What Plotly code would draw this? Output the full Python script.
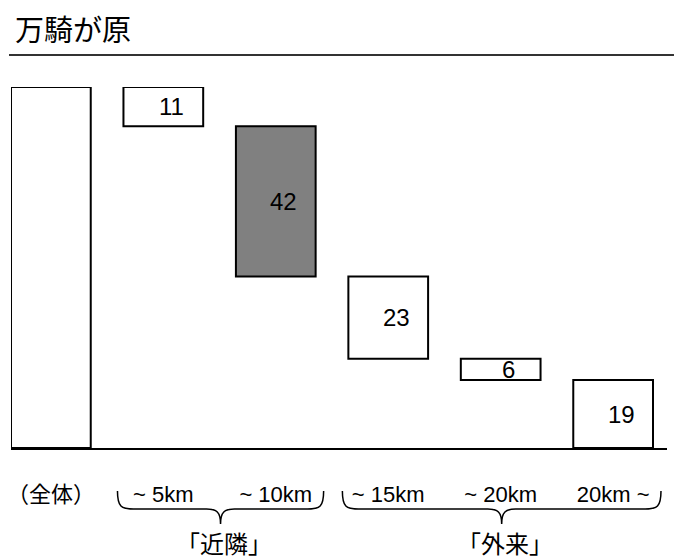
import plotly.graph_objects as go

# ---- data ----
categories = ["（全体）", "~ 5km", "~ 10km", "~ 15km", "~ 20km", "20km ~"]
segments = [11, 42, 23, 6, 19]
highlight_index = 1  # the "42" bar is shaded
group_labels = ["「近隣」", "「外来」"]
group_members = [[1, 2], [3, 4, 5]]
title_text = "万騎が原"

total = sum(segments)
values = [total] + segments
bases = [0]
remaining = total
for v in segments:
    remaining -= v
    bases.append(remaining)
colors = ["white"] + ["#808080" if i == highlight_index else "white" for i in range(len(segments))]

FONT = "Liberation Sans, Arial, Noto Sans CJK JP, sans-serif"
W, H = 674, 557
ML, MR, MT, MB = 9, 7, 87, 109
PW, PH = W - ML - MR, H - MT - MB
XR = [-0.3546, 5.479]


def px_x(px):
    return (px - ML) / PW


def px_y(py):
    return (H - MB - py) / PH


def cat_px(idx):
    return ML + (idx - XR[0]) / (XR[1] - XR[0]) * PW


fig = go.Figure(
    go.Bar(
        x=categories,
        y=values,
        base=bases,
        width=0.709,
        marker=dict(color=colors, line=dict(color="black", width=2)),
        hoverinfo="skip",
    )
)

annotations = []
for i, v in enumerate(segments):
    annotations.append(dict(
        x=categories[i + 1], y=bases[i + 1] + v / 2, xref="x", yref="y",
        text=str(v), showarrow=False, xshift=8,
        font=dict(family=FONT, size=24, color="black"),
    ))

# title
annotations.append(dict(
    x=px_x(11), y=px_y(31), xref="paper", yref="paper", xanchor="left", yanchor="middle",
    text=title_text, showarrow=False,
    font=dict(family=FONT, size=29, color="black"),
))

shapes = [dict(type="line", xref="paper", yref="paper",
               x0=px_x(7), x1=px_x(674), y0=px_y(55), y1=px_y(55),
               line=dict(color="#333333", width=2))]


def brace(x0, x1, xp, ytop=491, ymid=509, ypeak=524):
    pts = [
        ("M", [(x0, ytop)]),
        ("C", [(x0, ymid - 2), (x0 + 4, ymid), (x0 + 16, ymid)]),
        ("L", [(xp - 14, ymid)]),
        ("C", [(xp - 4, ymid), (xp, ymid + 3), (xp, ypeak)]),
        ("C", [(xp, ymid + 3), (xp + 4, ymid), (xp + 14, ymid)]),
        ("L", [(x1 - 16, ymid)]),
        ("C", [(x1 - 4, ymid), (x1, ymid - 2), (x1, ytop)]),
    ]
    s = ""
    for cmd, ps in pts:
        s += cmd + " " + " ".join(f"{px_x(a):.5f},{px_y(b):.5f}" for a, b in ps) + " "
    return dict(type="path", xref="paper", yref="paper", path=s.strip(),
                line=dict(color="black", width=1.5))


for members, lab in zip(group_members, group_labels):
    x0 = cat_px(members[0]) - 46
    x1 = min(cat_px(members[-1]) + 48, 668)
    xp = (x0 + x1) / 2
    shapes.append(brace(x0, x1, xp))
    annotations.append(dict(
        x=px_x(xp + 3), y=px_y(544), xref="paper", yref="paper",
        text=lab, showarrow=False, xanchor="center", yanchor="middle",
        font=dict(family=FONT, size=24, color="black"),
    ))

fig.update_layout(
    width=W, height=H,
    margin=dict(l=ML, r=MR, t=MT, b=MB),
    paper_bgcolor="white", plot_bgcolor="white",
    showlegend=False,
    annotations=annotations,
    shapes=shapes,
    xaxis=dict(
        range=XR, showline=True, linecolor="black", linewidth=2,
        showgrid=False, zeroline=False, ticks="", ticklabelstandoff=26,
        tickfont=dict(family=FONT, size=22, color="black"),
        fixedrange=True,
    ),
    yaxis=dict(range=[0, total], visible=False, showgrid=False, zeroline=False, fixedrange=True),
)

fig.write_html("out.html")
